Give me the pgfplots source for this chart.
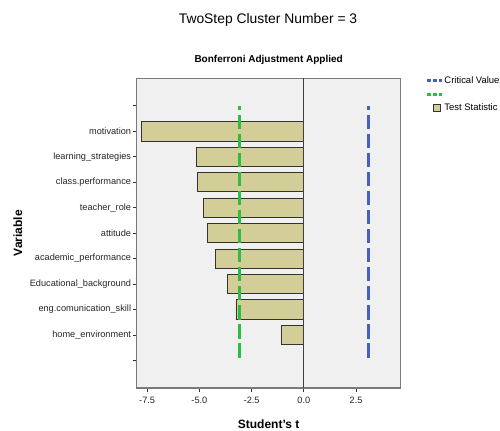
\documentclass[border=0pt]{standalone}
\usepackage{pgfplots}
\pgfplotsset{compat=1.18}
\usepackage{fontspec}
\setmainfont{Liberation Sans}
\definecolor{barfill}{HTML}{D3CE98}
\definecolor{bggray}{HTML}{F0F0F0}
\definecolor{critblue}{HTML}{4660BF}
\definecolor{testgreen}{HTML}{2CBE40}
\definecolor{framegray}{HTML}{7A7A7A}
\begin{document}
\begin{tikzpicture}
\path[use as bounding box, fill=white] (0,0) rectangle (375pt,322.5pt);
\node[font=\fontsize{10.4}{12}\selectfont] at (201pt,307.5pt) {TwoStep Cluster Number = 3};
\begin{axis}[
  at={(102.5pt,31.5pt)}, anchor=south west,
  scale only axis, width=198pt, height=232.3pt,
  xmin=-8.0, xmax=4.63,
  ymin=-1.08, ymax=11.08, y dir=reverse,
  axis background/.style={fill=bggray},
  axis line style={framegray, line width=0.8pt},
  xtick={-7.5,-5,-2.5,0,2.5},
  xticklabels={-7.5,-5.0,-2.5,0.0,2.5},
  ytick={0,1,2,3,4,5,6,7,8,9,10},
  yticklabels={,motivation,learning\_strategies,class.performance,teacher\_role,attitude,academic\_performance,Educational\_background,eng.comunication\_skill,home\_environment,},
  tick align=outside, tickwidth=3pt,
  xtick pos=bottom, ytick pos=left,
  tick style={black!80, line width=0.6pt},
  ticklabel style={font=\fontsize{6.9}{8}\selectfont, text=black!85},
  yticklabel style={inner xsep=1pt},
  /pgf/number format/assume math mode=true,
  title={\textbf{Bonferroni Adjustment Applied}},
  title style={font=\fontsize{7.5}{9}\selectfont, at={(0.5,1)}, anchor=south, yshift=1pt},
  xlabel={\textbf{Student's t}},
  xlabel style={font=\fontsize{9}{11}\selectfont, at={(rel axis cs:0.5,-0.116)}, anchor=center},
  ylabel={\textbf{Variable}},
  ylabel style={font=\fontsize{9}{11}\selectfont, at={(rel axis cs:-0.45,0.5)}, anchor=center, rotate=0},
  clip=false,
  reverse legend,
  legend style={at={(rel axis cs:1.088,1.012)}, anchor=north west, draw=none, fill=none,
    font=\fontsize{7.1}{8}\selectfont, inner sep=0pt, row sep=1.8pt,
    nodes={inner sep=1pt}},
  legend cell align=left,
]
\addplot[xbar, bar width=0.76, fill=barfill, draw=black!80, line width=0.6pt,
  area legend,
  legend image code/.code={\draw[fill=barfill, draw=black!80, line width=0.5pt] (6pt,-2.5pt) rectangle (11pt,2.5pt);}]
  coordinates {(-7.75,1) (-5.15,2) (-5.10,3) (-4.82,4) (-4.63,5) (-4.21,6) (-3.67,7) (-3.25,8) (-1.07,9)};
\addlegendentry{Test Statistic}
\draw[black!75, line width=0.7pt] (axis cs:0,-1.08) -- (axis cs:0,11.08);
\addplot[testgreen, line width=2.2pt, dash pattern=on 10.7pt off 3.6pt, dash phase=7.7pt,
  legend image code/.code={\draw[testgreen, line width=2.2pt, dash pattern=on 3pt off 1.5pt] (0pt,0pt) -- (12pt,0pt);}]
  coordinates {(-3.08,0) (-3.08,10)};
\addlegendentry{\phantom{X}}
\addplot[critblue, line width=2pt, dash pattern=on 10.7pt off 3.6pt, dash phase=7.7pt,
  legend image code/.code={\draw[critblue, line width=2.2pt, dash pattern=on 3pt off 1.5pt] (0pt,0pt) -- (12pt,0pt);}]
  coordinates {(3.08,0) (3.08,10)};
\addlegendentry{Critical Value}
\end{axis}
\end{tikzpicture}
\end{document}
